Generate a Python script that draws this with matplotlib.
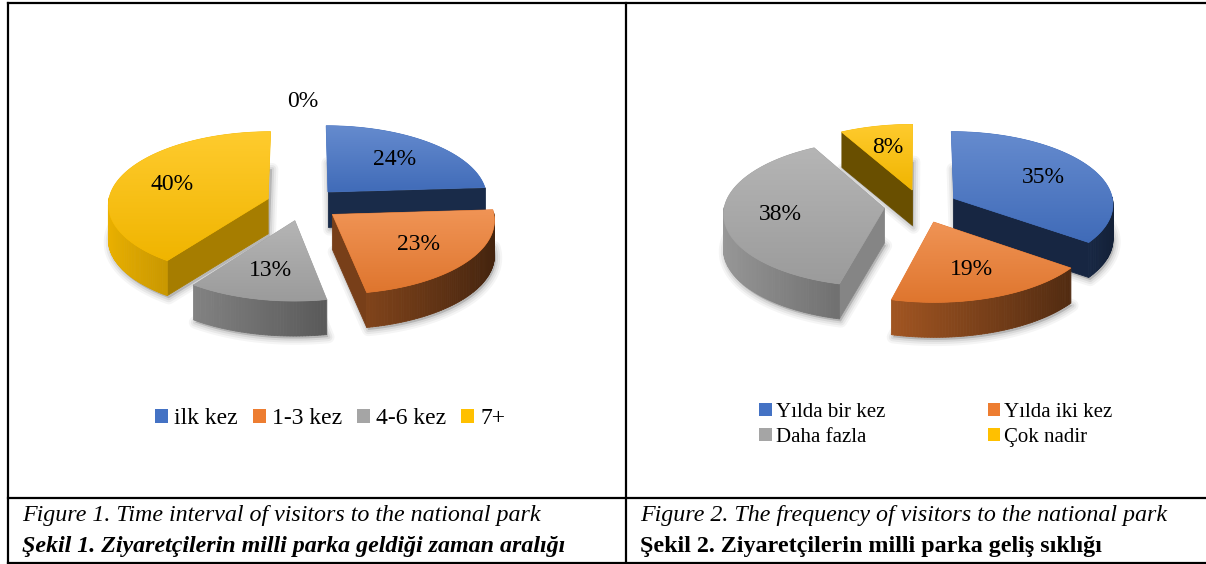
import numpy as np
import matplotlib
matplotlib.use("Agg")
import matplotlib.pyplot as plt
from matplotlib.patches import Polygon, Patch
from matplotlib.collections import PolyCollection
from matplotlib.font_manager import FontProperties
import matplotlib.colors as mcolors

# ---------------- data ----------------
fig1_categories = ["ilk kez", "1-3 kez", "4-6 kez", "7+", ""]
fig1_values = [24, 23, 13, 40, 0]
fig1_labels = ["24%", "23%", "13%", "40%", "0%"]

fig2_categories = ["Yılda bir kez", "Yılda iki kez", "Daha fazla", "Çok nadir"]
fig2_values = [35, 19, 38, 8]
fig2_labels = ["35%", "19%", "38%", "8%"]

caption1_en = "Figure 1. Time interval of visitors to the national park"
caption1_tr = "Şekil 1. Ziyaretçilerin milli parka geldiği zaman aralığı"
caption2_en = "Figure 2. The frequency of visitors to the national park"
caption2_tr = "Şekil 2. Ziyaretçilerin milli parka geliş sıklığı"

series_colors = ["#4472C4", "#ED7D31", "#A5A5A5", "#FFC000", "#FFFFFF"]

SERIF = "Liberation Serif"

W, H = 1206, 564
fig = plt.figure(figsize=(W / 100, H / 100), dpi=100)
ax = fig.add_axes([0, 0, 1, 1])
ax.set_xlim(0, W)
ax.set_ylim(H, 0)
ax.axis("off")

zc = [10]


def nz():
    zc[0] += 1
    return zc[0]


def shade(rgb, f):
    return tuple(np.clip(np.array(rgb) * f, 0, 1))


def draw_pie3d(values, labels, colors, cx, cy, rx=160, ry=73, depth=35,
               explode=0.23, persp=0.07, label_r=0.65, fontsize=17):
    total = float(sum(values))

    def proj(u, v, z):
        s = 1 - persp * v
        return cx + rx * u * s, cy - ry * v * s + z * depth

    slices = []
    acc = 0.0
    for i, val in enumerate(values):
        t1 = 360.0 * acc / total
        acc += val
        t2 = 360.0 * acc / total
        m = np.radians((t1 + t2) / 2)
        slices.append((i, val, np.radians(t1), np.radians(t2), m))

    drawn = [s for s in slices if s[1] > 0]

    # soft shadows under the slices
    for i, val, a1, a2, m in drawn:
        du, dv = explode * np.sin(m), explode * np.cos(m)
        ths = np.linspace(a1, a2, 60)
        bpts = [proj(du, dv, 1)] + [proj(np.sin(t) + du, np.cos(t) + dv, 1) for t in ths]
        bpts = np.array(bpts) + np.array([1.5, 2.5])
        for lw_, al in ((9, 0.04), (6, 0.05), (3, 0.07)):
            ax.add_patch(Polygon(bpts, closed=True, facecolor=(0, 0, 0, al),
                                 edgecolor=(0, 0, 0, al), linewidth=lw_,
                                 joinstyle="round", zorder=5))

    # far slices first
    order = sorted(drawn, key=lambda s: -np.cos(s[4]))
    for i, val, a1, a2, m in order:
        base = mcolors.to_rgb(colors[i])
        du, dv = explode * np.sin(m), explode * np.cos(m)
        n = max(int(np.degrees(a2 - a1)), 2) + 1
        ths = np.linspace(a1, a2, n)
        us = np.sin(ths) + du
        vs = np.cos(ths) + dv

        # ---- side walls ----
        polys, cols = [], []
        for ang, sign in ((a1, -1), (a2, 1)):
            nx = sign * np.cos(ang)
            nv = -sign * np.sin(ang)
            if nv < -1e-3:
                f = 0.74 + 0.167 * nx + 0.378 * nv
                pa0 = proj(du, dv, 0)
                pr0 = proj(np.sin(ang) + du, np.cos(ang) + dv, 0)
                pr1 = proj(np.sin(ang) + du, np.cos(ang) + dv, 1)
                pa1 = proj(du, dv, 1)
                polys.append([pa0, pr0, pr1, pa1])
                cols.append(shade(base, f))
        for k in range(n - 1):
            tm = 0.5 * (ths[k] + ths[k + 1])
            if np.cos(tm) < 0.02:
                f = 0.6 - 0.32 * np.sin(tm)
                p0 = proj(us[k], vs[k], 0)
                p1 = proj(us[k + 1], vs[k + 1], 0)
                p2 = proj(us[k + 1], vs[k + 1], 1)
                p3 = proj(us[k], vs[k], 1)
                polys.append([p0, p1, p2, p3])
                cols.append(shade(base, f))
        if polys:
            pc = PolyCollection(polys, facecolors=cols, edgecolors=cols,
                                linewidths=0.6, zorder=nz())
            ax.add_collection(pc)

        # ---- top face with vertical gradient ----
        pts = [proj(du, dv, 0)] + [proj(u, v, 0) for u, v in zip(us, vs)]
        pts = np.array(pts)
        x0, x1 = pts[:, 0].min() - 1, pts[:, 0].max() + 1
        y0, y1 = pts[:, 1].min() - 1, pts[:, 1].max() + 1
        top_c = np.array(base) * 0.82 + 0.18
        bot_c = np.array(base) * 0.94
        tt = np.linspace(0, 1, 64)[:, None]
        grad = top_c[None, :] * (1 - tt) + bot_c[None, :] * tt
        img = np.dstack([grad[:, None, 0], grad[:, None, 1], grad[:, None, 2]])
        z = nz()
        poly = Polygon(pts, closed=True, facecolor=shade(base, 0.97),
                       edgecolor=shade(base, 0.97), linewidth=0.5, zorder=z)
        ax.add_patch(poly)
        im = ax.imshow(img, extent=(x0, x1, y1, y0), origin="upper",
                       aspect="auto", zorder=z + 0.5, interpolation="bilinear")
        im.set_clip_path(poly)

    # ---- data labels ----
    for i, val, a1, a2, m in slices:
        r = label_r if val > 0 else 1.58
        e = explode if val > 0 else 0.0
        u = (r + e) * np.sin(m)
        v = (r + e) * np.cos(m)
        x, y = proj(u, v, 0)
        ax.text(x, y, labels[i], ha="center", va="center", fontsize=fontsize,
                family=SERIF, color="black", zorder=1000)


draw_pie3d(fig1_values, fig1_labels, series_colors, cx=303, cy=204)
draw_pie3d(fig2_values, fig2_labels, series_colors, cx=921, cy=206)

# ---------------- legends ----------------
h1 = [Patch(facecolor=series_colors[i], edgecolor="none") for i in range(4)]
leg1 = ax.legend(h1, fig1_categories[:4], loc="center",
                 bbox_to_anchor=(330, 419), bbox_transform=ax.transData,
                 ncol=4, frameon=False,
                 prop=FontProperties(family=SERIF, size=17),
                 handlelength=0.55, handleheight=0.55, handletextpad=0.25,
                 columnspacing=0.65, borderpad=0, borderaxespad=0)
ax.add_artist(leg1)

idx = [0, 2, 1, 3]
h2 = [Patch(facecolor=series_colors[i], edgecolor="none") for i in idx]
leg2 = ax.legend(h2, [fig2_categories[i] for i in idx], loc="center",
                 bbox_to_anchor=(936, 425), bbox_transform=ax.transData,
                 ncol=2, frameon=False,
                 prop=FontProperties(family=SERIF, size=15),
                 handlelength=0.6, handleheight=0.6, handletextpad=0.2,
                 columnspacing=4.9, labelspacing=0.3, borderpad=0,
                 borderaxespad=0)

# ---------------- table lines ----------------
lw = 1.6
ax.plot([7.5, 7.5], [2.5, 562.5], color="black", lw=lw, solid_capstyle="projecting", zorder=2000)
ax.plot([7.5, W], [2.5, 2.5], color="black", lw=lw, zorder=2000)
ax.plot([7.5, W], [562.5, 562.5], color="black", lw=lw, zorder=2000)
ax.plot([626, 626], [2.5, 562.5], color="black", lw=lw, zorder=2000)
ax.plot([7.5, W], [497.5, 497.5], color="black", lw=lw, zorder=2000)

# ---------------- captions ----------------
cap_fs = 17.3
ax.text(22, 521, caption1_en, fontsize=cap_fs, family=SERIF, style="italic",
        ha="left", va="baseline", zorder=2000)
ax.text(22, 552, caption1_tr, fontsize=cap_fs, family=SERIF, style="italic",
        weight="bold", ha="left", va="baseline", zorder=2000)
ax.text(640, 521, caption2_en, fontsize=cap_fs, family=SERIF, style="italic",
        ha="left", va="baseline", zorder=2000)
ax.text(640, 552, caption2_tr, fontsize=cap_fs, family=SERIF, weight="bold",
        ha="left", va="baseline", zorder=2000)

fig.savefig("out.png", dpi=100, facecolor="white")
